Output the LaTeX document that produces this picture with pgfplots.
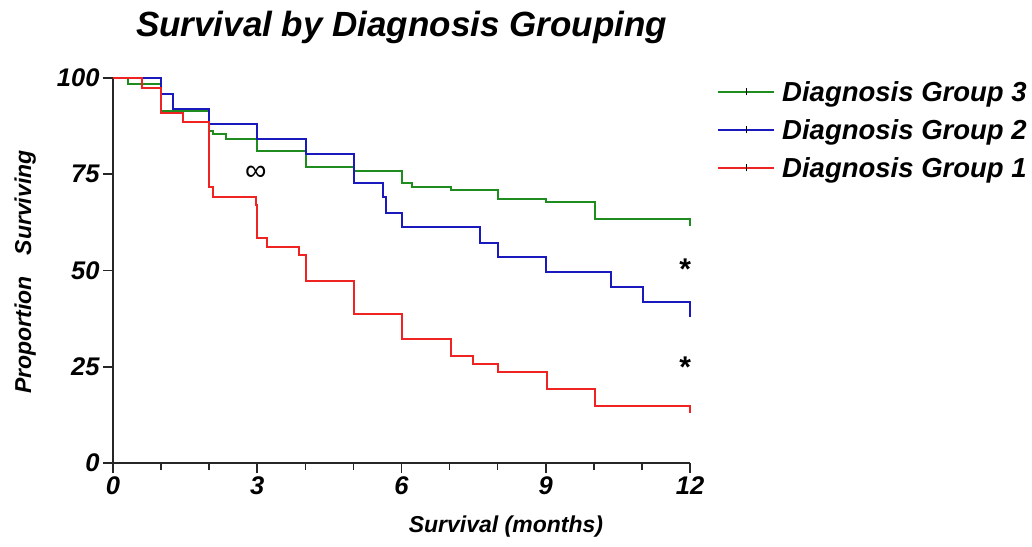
\documentclass[border=0pt]{standalone}
\usepackage{fontspec}
\setmainfont{Liberation Sans}
\usepackage{pgfplots}
\pgfplotsset{compat=1.18}
\definecolor{kmgreen}{RGB}{30,140,30}
\definecolor{kmblue}{RGB}{25,25,190}
\definecolor{kmred}{RGB}{240,35,35}

\begin{document}
\begin{tikzpicture}[x=1pt,y=1pt]
\path[use as bounding box] (0,0) rectangle (1032,546);
\begin{axis}[
  at={(113pt,83pt)}, anchor=south west,
  scale only axis, width=577pt, height=385pt,
  xmin=0, xmax=12, ymin=0, ymax=100,
  clip=false,
  axis x line*=bottom, axis y line*=left,
  axis line style={-, black!85, line width=1.8pt},
  xtick={0,3,6,9,12}, minor xtick={1,2,4,5,7,8,10,11},
  ytick={0,25,50,75,100},
  tick align=outside, major tick length=10pt, minor tick length=7pt,
  tick style={black!85, line width=1.6pt},
  /pgf/number format/assume math mode=true,
  tick label style={font=\fontsize{25.5}{25.5}\selectfont\bfseries\itshape},
  title={Survival by Diagnosis Grouping},
  title style={at={(axis description cs:0.5,1.091)}, anchor=base, font=\fontsize{35}{35}\selectfont\bfseries\itshape},
  xlabel={Survival (months)},
  xlabel style={at={(axis description cs:0.681,-0.1818)}, anchor=base, font=\fontsize{23}{23}\selectfont\bfseries\itshape},
  ylabel={Proportion\hspace{0.9em}Surviving},
  ylabel style={at={(axis description cs:-0.1421,0.496)}, anchor=base, font=\fontsize{23}{23}\selectfont\bfseries\itshape},
  legend style={at={(axis description cs:1.0468,0.996)}, anchor=north west, draw=none, fill=none, inner sep=0pt, row sep=12.5pt,
    font=\fontsize{27.5}{27.5}\selectfont\bfseries\itshape,
    /tikz/every odd column/.append style={column sep=5pt}},
  legend cell align=left,
  legend image code/.code={
    \draw[#1, line width=2pt] (0pt,0pt) -- (56pt,0pt);
    \draw[black, line width=1.2pt] (28pt,-3pt) -- (28pt,4pt);
  },
]
\addplot[const plot, kmgreen, line width=2pt] coordinates {
 (0,100) (0.32,98.4) (0.99,91.5) (2.0,86.3) (2.09,85.5) (2.35,84.2) (2.99,81.1)
 (4.01,76.9) (5.01,75.9) (6.02,72.8) (6.21,71.8) (7.02,70.8) (8.01,68.7)
 (9.01,67.7) (10.02,63.5) (12,61.5)
};
\addlegendentry{Diagnosis Group 3}
\addplot[const plot, kmblue, line width=2pt] coordinates {
 (0,100) (0.99,95.8) (1.25,91.9) (2.0,88.1) (3.0,84.2) (4.01,80.3) (5.01,72.6)
 (5.61,69.0) (5.68,65.0) (6.02,61.2) (7.64,57.2) (8.01,53.6) (9.01,49.6)
 (10.35,45.6) (11.03,41.8) (12,37.9)
};
\addlegendentry{Diagnosis Group 2}
\addplot[const plot, kmred, line width=2pt] coordinates {
 (0,100) (0.60,97.3) (0.99,90.8) (1.46,88.7) (2.0,71.8) (2.07,69.2) (2.97,67.0)
 (3.0,58.4) (3.21,56.2) (3.87,54.0) (4.01,47.4) (5.01,38.7) (6.01,32.1)
 (7.02,27.8) (7.48,25.7) (8.01,23.6) (9.02,19.3) (10.02,14.8) (12,13.1)
};
\addlegendentry{Diagnosis Group 1}
\node[font=\fontsize{30}{30}\selectfont, anchor=center] at (axis cs:2.97,75.3) {∞};
\node[font=\fontsize{30}{30}\selectfont\bfseries, anchor=base] at (axis cs:11.9,47.6) {*};
\node[font=\fontsize{30}{30}\selectfont\bfseries, anchor=base] at (axis cs:11.9,22.1) {*};
\end{axis}
\end{tikzpicture}
\end{document}
